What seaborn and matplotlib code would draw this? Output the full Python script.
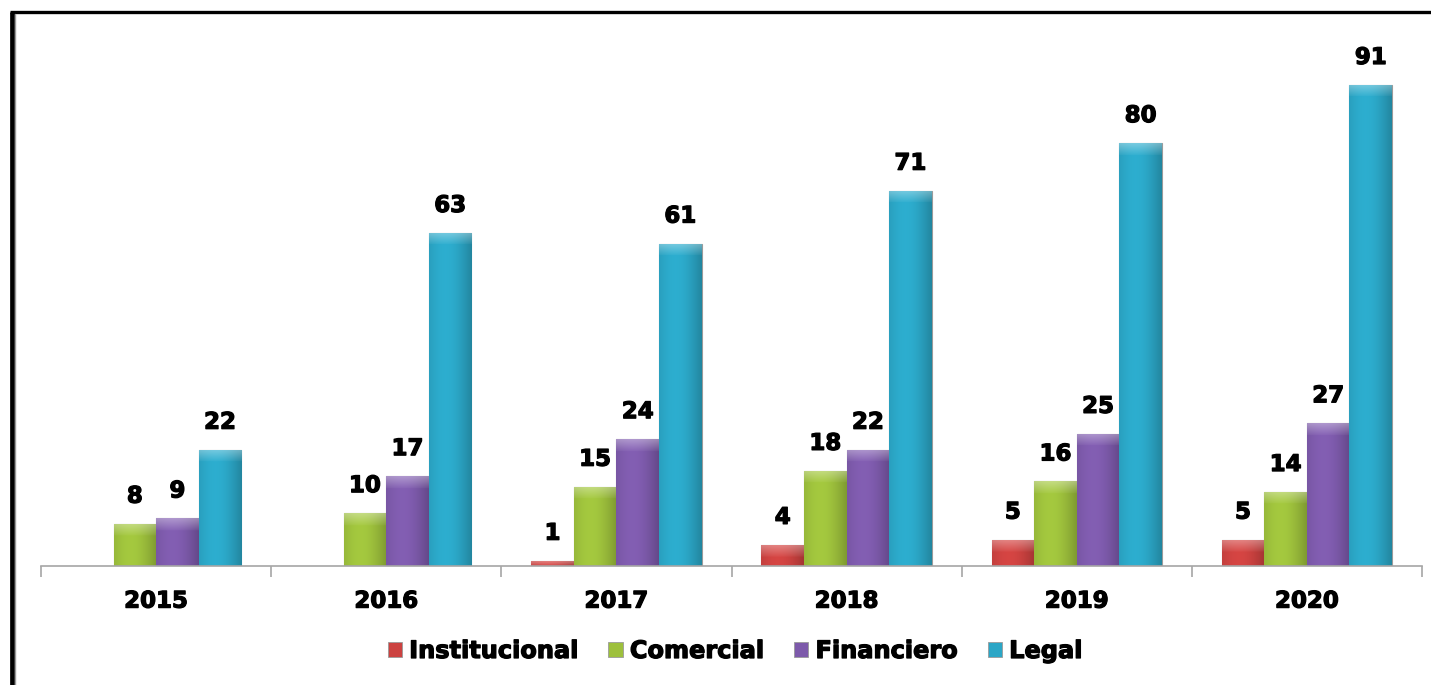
import numpy as np
import pandas as pd
import matplotlib
matplotlib.use("Agg")
import matplotlib.pyplot as plt
import matplotlib.patheffects as pe
from matplotlib.lines import Line2D
from matplotlib.patches import Patch
from matplotlib.colors import to_rgb
import seaborn as sns

# -----------------------------
# DATA
# -----------------------------
years = ["2015", "2016", "2017", "2018", "2019", "2020"]
institucional = [np.nan, np.nan, 1, 4, 5, 5]
comercial = [8, 10, 15, 18, 16, 14]
financiero = [9, 17, 24, 22, 25, 27]
legal = [22, 63, 61, 71, 80, 91]

series_names = ["Institucional", "Comercial", "Financiero", "Legal"]
series_colors = ["#CC4240", "#9DC03C", "#7D5AAB", "#2BA6C6"]

df = pd.DataFrame({
    "year": years * 4,
    "serie": np.repeat(series_names, len(years)),
    "valor": institucional + comercial + financiero + legal,
}).dropna()

# -----------------------------
# STYLE
# -----------------------------
sns.set_style("white")
plt.rcParams["font.family"] = ["DejaVu Sans"]
plt.rcParams["font.weight"] = "bold"
plt.rcParams["text.color"] = "black"
FS = 16.5
thick = [pe.withStroke(linewidth=0.9, foreground="black")]

W, H = 1431, 685
fig = plt.figure(figsize=(W / 100, H / 100), dpi=100)
ax = fig.add_axes([41 / W, 1 - 566 / H, 1381 / W, 528.6 / H])

sns.barplot(data=df, x="year", y="valor", hue="serie", order=years,
            hue_order=series_names, palette=series_colors, width=0.74,
            saturation=1, errorbar=None, edgecolor="#9a9a9a", linewidth=0.8,
            legend=False, ax=ax)

ax.set_xlim(-0.5, 5.5)
ax.set_ylim(0, 100)

# gradient shading on each bar (bevel look)
px_per_unit = 528.6 / 100
for bar in list(ax.patches):
    h = bar.get_height()
    if not np.isfinite(h) or h <= 0:
        continue
    x0 = bar.get_x()
    w = bar.get_width()
    base = np.array(to_rgb(bar.get_facecolor()))
    nx = 60
    ny = max(int(h * px_per_unit), 2)
    t = np.linspace(0, 1, nx)
    shade = (0.96 + 0.12 * np.sin(np.pi * t)) * (1 - 0.16 * t ** 2)
    img = np.ones((ny, nx, 3)) * base
    img = img * shade[None, :, None]
    top = min(12, ny)
    light = np.linspace(0.35, 0.05, top)
    img[:top] = img[:top] + (1 - img[:top]) * light[:, None, None]
    img = np.clip(img, 0, 1)
    im = ax.imshow(img, extent=[x0, x0 + w, 0, h], aspect="auto",
                   origin="upper", zorder=bar.get_zorder() + 0.1,
                   interpolation="bilinear")
    im.set_clip_path(bar)

ax.set_xlim(-0.5, 5.5)
ax.set_ylim(0, 100)

# value labels
for bar in ax.patches:
    h = bar.get_height()
    if not np.isfinite(h) or h <= 0:
        continue
    ax.annotate(f"{int(h)}", (bar.get_x() + bar.get_width() / 2, h),
                xytext=(0, 11.5), textcoords="offset points",
                ha="center", va="bottom", fontsize=FS, fontweight="bold",
                color="black", path_effects=thick)

# axes styling
for s in ["left", "right", "top"]:
    ax.spines[s].set_visible(False)
ax.spines["bottom"].set_color("#a6a6a6")
ax.spines["bottom"].set_linewidth(1.2)
ax.set_yticks([])
ax.set_xlabel("")
ax.set_ylabel("")
ax.set_xticks(range(len(years)))
ax.set_xticklabels(years, fontsize=FS, fontweight="bold", color="black")
for lbl in ax.get_xticklabels():
    lbl.set_path_effects(thick)
ax.tick_params(axis="x", which="major", length=0, pad=17)
ax.set_xticks(np.arange(-0.5, len(years)), minor=True)
ax.tick_params(axis="x", which="minor", bottom=True, length=8, width=1.2,
               color="#a6a6a6", direction="out")

# legend
handles = [Patch(facecolor=c, edgecolor="#9a9a9a", linewidth=0.6)
           for c in series_colors]
leg = fig.legend(handles, series_names, loc="center",
                 bbox_to_anchor=(735 / W, 1 - 651 / H),
                 ncol=4, frameon=False, prop={"size": 17.3, "weight": "bold"},
                 handlelength=0.6, handleheight=0.6, handletextpad=0.3,
                 columnspacing=1.25)
for txt in leg.get_texts():
    txt.set_color("black")
    txt.set_path_effects(thick)

# border lines (left and top)
fig.add_artist(Line2D([11.5 / W, 11.5 / W], [0, 1 - 11.5 / H], color="black",
                      linewidth=3.4, solid_capstyle="butt",
                      transform=fig.transFigure))
fig.add_artist(Line2D([9.5 / W, 1], [1 - 11.5 / H, 1 - 11.5 / H], color="black",
                      linewidth=2.4, solid_capstyle="butt",
                      transform=fig.transFigure))
fig.add_artist(Line2D([14.8 / W, 14.8 / W], [0, 1 - 13.5 / H], color="#9a9a9a",
                      linewidth=1.0, transform=fig.transFigure))

fig.savefig("out.png", dpi=100)
plt.close(fig)
